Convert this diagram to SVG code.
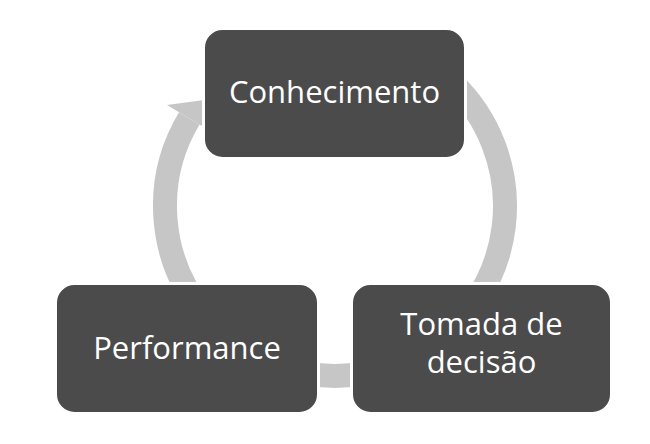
<svg xmlns="http://www.w3.org/2000/svg" width="650" height="444" viewBox="0 0 650 444">
<style>
.arc{fill:none;stroke:#c6c6c6;stroke-width:24}
.box{fill:#4b4b4b;stroke:#ffffff;stroke-width:3}
.lbl{font-family:"Open Sans","Noto Sans",sans-serif;font-size:31px;fill:#ffffff;text-anchor:middle}
</style>
<rect width="650" height="444" fill="#ffffff"/>
<g id="connectors">
<path class="arc" d="M453.1,83.7 A170,170 0 0 1 420,353.2"/>
<path class="arc" d="M364.5,373.4 A170,170 0 0 1 305.5,373.4"/>
<path class="arc" d="M204.8,315.3 A170,170 0 0 1 189.3,118.4"/>
<polygon points="167,105 204,100 212,132" fill="#c6c6c6"/>
</g>
<g id="node-conhecimento">
<rect class="box" x="203.5" y="28.5" width="262" height="130" rx="19"/>
<text class="lbl" x="334.5" y="103">Conhecimento</text>
</g>
<g id="node-performance">
<rect class="box" x="55.5" y="283.5" width="263" height="130" rx="19"/>
<text class="lbl" x="187" y="359">Performance</text>
</g>
<g id="node-tomada">
<rect class="box" x="351.5" y="283.5" width="260" height="130" rx="19"/>
<text class="lbl" x="481.5" y="335">Tomada de</text>
<text class="lbl" x="481.5" y="373">decisão</text>
</g>
</svg>
